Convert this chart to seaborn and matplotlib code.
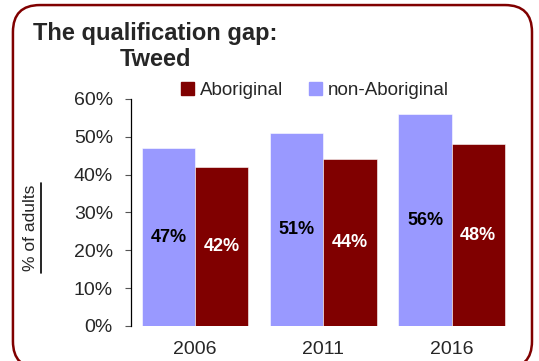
import numpy as np
import pandas as pd
import seaborn as sns
import matplotlib as mpl
from matplotlib import pyplot as plt
from matplotlib.patches import FancyBboxPatch, Patch
from matplotlib.lines import Line2D

# data
years = ["2006", "2011", "2016"]
non_aboriginal = [0.47, 0.51, 0.56]
aboriginal = [0.42, 0.44, 0.48]
groups = ["non-Aboriginal", "Aboriginal"]
colors = {"non-Aboriginal": "#9999FF", "Aboriginal": "#800000"}

df = pd.DataFrame({
    "year": years * 2,
    "group": [groups[0]] * 3 + [groups[1]] * 3,
    "share": non_aboriginal + aboriginal,
})

sns.set_style("white")
plt.rcParams['font.family'] = ['Liberation Sans', 'DejaVu Sans']

fig = plt.figure(figsize=(5.39, 3.61), dpi=100)
ax = fig.add_axes([0.243, 0.097, 0.714, 0.629])

sns.barplot(data=df, x="year", y="share", hue="group", hue_order=groups,
            palette=colors, saturation=1, width=0.83, gap=0, ax=ax, legend=False,
            edgecolor="white", linewidth=0.4)

# labels inside the bars
for cont, col in zip(ax.containers, ["black", "white"]):
    ax.bar_label(cont, labels=[f"{v*100:.0f}%" for v in cont.datavalues],
                 label_type="center", color=col, fontsize=13, fontweight="bold")

ax.set_ylim(0, 0.6)
ax.set_yticks(np.arange(0, 0.61, 0.1))
ax.set_yticklabels([f"{int(round(t*100))}%" for t in np.arange(0, 0.61, 0.1)])
ax.set_xlim(-0.5, 2.5)
ax.set_xlabel("")
ax.set_ylabel("")
ax.tick_params(axis="y", direction="out", length=4, width=0.8, pad=9,
               labelsize=14, left=True, color="#555555")
ax.tick_params(axis="x", length=0, pad=11, labelsize=14)
for s in ["top", "right", "bottom"]:
    ax.spines[s].set_visible(False)
ax.spines["left"].set_color("black")
ax.spines["left"].set_linewidth(0.9)

# y label with underline
fig.text(0.057, 1 - 228 / 361, "% of adults", rotation=90, fontsize=12.5,
         ha="center", va="center")
fig.add_artist(Line2D([41 / 539, 41 / 539], [1 - 183 / 361, 1 - 273 / 361],
                      color="black", lw=1.2))

# title
fig.text(0.288, 0.872, "The qualification gap:\nTweed", ha="center", va="center",
         fontsize=17, fontweight="bold", linespacing=1.15)

# legend
handles = [Patch(color=colors["Aboriginal"], label="Aboriginal"),
           Patch(color=colors["non-Aboriginal"], label="non-Aboriginal")]
fig.legend(handles=handles, loc="center", bbox_to_anchor=(0.584, 0.75), ncol=2,
           frameon=False, fontsize=13.5, handlelength=0.7, handleheight=0.7,
           handletextpad=0.3, columnspacing=1.4)

# rounded border
fig.add_artist(FancyBboxPatch((0.024, -0.02), 0.963, 1.006,
                              boxstyle="round,pad=0,rounding_size=0.05",
                              mutation_aspect=539 / 361, transform=fig.transFigure,
                              facecolor="none", edgecolor="#800000", lw=1.8))

fig.savefig("out.png", dpi=100)
